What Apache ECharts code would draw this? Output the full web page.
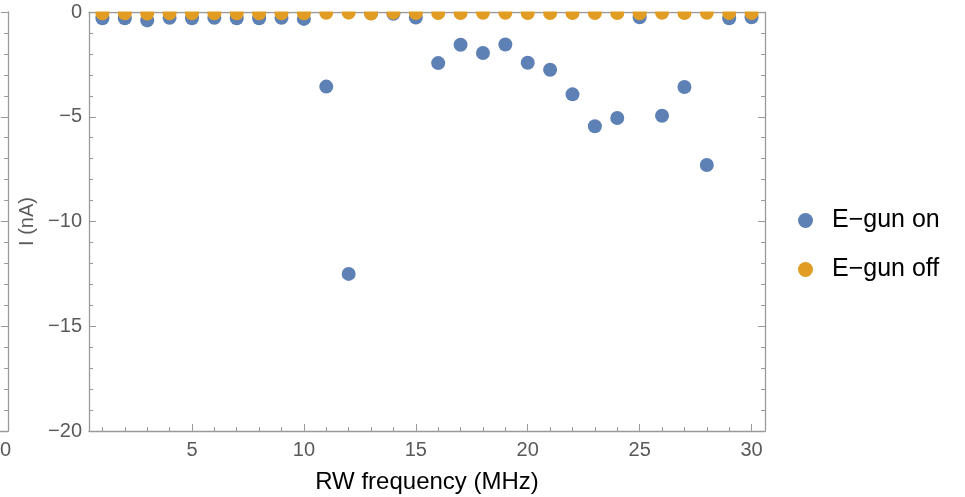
<!DOCTYPE html>
<html>
<head>
<meta charset="utf-8">
<script src="https://cdn.jsdelivr.net/npm/echarts@6/dist/echarts.min.js"></script>
<style>
  html, body { margin: 0; padding: 0; background: #fff; }
  #chart { width: 965px; height: 497px; }
</style>
</head>
<body>
<div id="chart"></div>
<script>
  // RW frequency (MHz)
  var freqs = [1, 2, 3, 4, 5, 6, 7, 8, 9, 10, 11, 12, 13, 14, 15, 16, 17, 18, 19, 20, 21, 22, 23, 24, 25, 26, 27, 28, 29, 30]
  // current I (nA)
  var gunOn = [-0.3, -0.3, -0.4, -0.28, -0.3, -0.28, -0.3, -0.3, -0.28, -0.33,
    -3.56, -12.5, -0.06, -0.08, -0.26, -2.44, -1.56, -1.96, -1.55, -2.42,
    -2.76, -3.93, -5.45, -5.06, -0.25, -4.95, -3.58, -7.3, -0.3, -0.25]
  var gunOff = [-0.06, -0.06, -0.07, -0.06, -0.06, -0.06, -0.06, -0.06, -0.06, -0.06,
    -0.04, -0.03, -0.07, -0.03, -0.05, -0.05, -0.05, -0.04, -0.04, -0.05,
    -0.05, -0.05, -0.05, -0.05, -0.06, -0.04, -0.05, -0.04, -0.05, -0.05]
  var xMajor = [5, 10, 15, 20, 25, 30]
  var xMinor = freqs.filter(function (v) { return v % 5 !== 0 })
  var yMajor = [0, -5, -10, -15, -20]
  var yMinor = []
  for (var i = -19; i < 0; i++) { if (i % 5 !== 0) yMinor.push(i) }

  var frame = '#9a9a9a'
  var font = 'Liberation Sans'
  var minus = function (v) { return String(v).replace('-', '\u2212') }

  function xAx(gridIndex, pos, values, len, line, labels) {
    return {
      type: 'value', gridIndex: gridIndex, position: pos, min: 0.4, max: 30.6,
      splitLine: { show: false },
      axisLine: { show: line, onZero: false, lineStyle: { color: frame, width: 1.3 } },
      axisTick: { show: true, inside: true, length: len, customValues: values, lineStyle: { color: frame } },
      axisLabel: labels ? { show: true, customValues: labels, color: '#5a5a5a', fontFamily: font, fontSize: 20, margin: 9 } : { show: false }
    }
  }
  function yAx(gridIndex, pos, values, len, line, labels) {
    return {
      type: 'value', gridIndex: gridIndex, position: pos, min: -20, max: 0,
      splitLine: { show: false },
      axisLine: { show: line, onZero: false, lineStyle: { color: frame, width: 1.3 } },
      axisTick: { show: true, inside: true, length: len, customValues: values, lineStyle: { color: frame } },
      axisLabel: labels ? { show: true, customValues: labels, formatter: minus, color: '#5a5a5a', fontFamily: font, fontSize: 20, margin: 7 } : { show: false }
    }
  }

  // fragment of the neighbouring plot, cut off at the left edge
  var fragX = xAx(1, 'bottom', [], 7, true, [30])
  fragX.min = 30
  fragX.max = 30.6
  fragX.axisTick = { show: false }

  var xAxes = [
    xAx(0, 'bottom', xMajor, 7, true, xMajor),
    xAx(0, 'bottom', xMinor, 4, false, null),
    xAx(0, 'top', xMajor, 7, true, null),
    xAx(0, 'top', xMinor, 4, false, null),
    fragX
  ]
  xAxes[0].name = 'RW frequency (MHz)'
  xAxes[0].nameLocation = 'middle'
  xAxes[0].nameGap = 39
  xAxes[0].nameTextStyle = { color: '#000', fontFamily: font, fontSize: 24 }

  var yAxes = [
    yAx(0, 'left', yMajor, 7, true, yMajor),
    yAx(0, 'left', yMinor, 4, false, null),
    yAx(0, 'right', yMajor, 7, true, null),
    yAx(0, 'right', yMinor, 4, false, null),
    yAx(1, 'right', yMajor, 7, true, null),
    yAx(1, 'right', yMinor, 4, false, null)
  ]
  yAxes[0].name = 'I (nA)'
  yAxes[0].nameLocation = 'middle'
  yAxes[0].nameGap = 52
  yAxes[0].nameTextStyle = { color: '#5a5a5a', fontFamily: font, fontSize: 20 }

  var chart = echarts.init(document.getElementById('chart'))
  chart.setOption({
    backgroundColor: '#fff',
    animation: false,
    grid: [
      { left: 89, top: 12, width: 676, height: 419, containLabel: false, outerBoundsMode: 'none' },
      { left: 0, top: 12, width: 8, height: 419, containLabel: false, outerBoundsMode: 'none' }
    ],
    legend: {
      orient: 'vertical',
      left: 793,
      top: 203,
      icon: 'circle',
      itemWidth: 15,
      itemHeight: 15,
      itemGap: 24,
      textStyle: { color: '#000', fontFamily: font, fontSize: 25, padding: [0, 0, 0, 14] },
      data: ['E\u2212gun on', 'E\u2212gun off']
    },
    // white band above the frame: the plot range crops the dots at the top edge
    graphic: [{
      type: 'rect', left: 89, top: 0, z: 100,
      shape: { width: 677, height: 11.4 },
      style: { fill: '#fff' }
    }],
    xAxis: xAxes,
    yAxis: yAxes,
    series: [
      {
        name: 'E\u2212gun on', type: 'scatter', xAxisIndex: 0, yAxisIndex: 0,
        symbolSize: 14,
        itemStyle: { color: '#5e81b5', opacity: 1 },
        data: freqs.map(function (f, k) { return [f, gunOn[k]] })
      },
      {
        name: 'E\u2212gun off', type: 'scatter', xAxisIndex: 0, yAxisIndex: 0,
        symbolSize: 14,
        itemStyle: { color: '#e19c24', opacity: 1 },
        data: freqs.map(function (f, k) { return [f, gunOff[k]] })
      }
    ]
  })
</script>
</body>
</html>
